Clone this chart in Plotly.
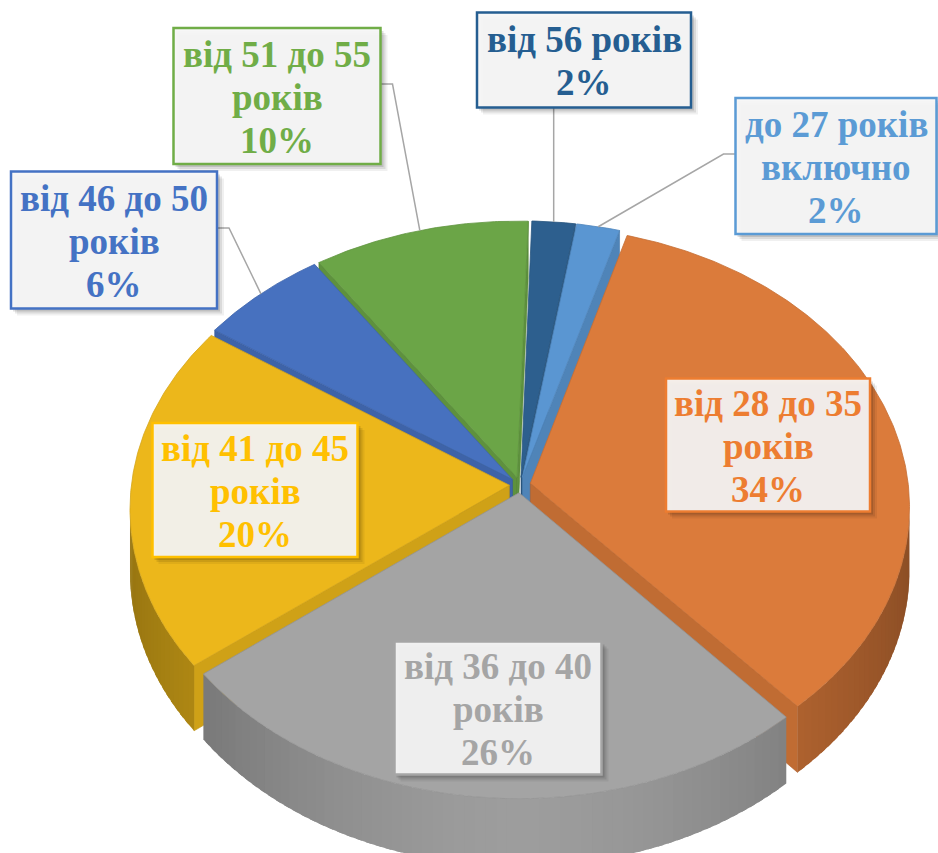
import numpy as np
import plotly.graph_objects as go

# ---------------- data ----------------
categories = ["до 27 років включно", "від 28 до 35 років", "від 36 до 40 років",
              "від 41 до 45 років", "від 46 до 50 років", "від 51 до 55 років", "від 56 років"]
label_text = ["до 27 років<br>включно", "від 28 до 35<br>років", "від 36 до 40<br>років",
              "від 41 до 45<br>років", "від 46 до 50<br>років", "від 51 до 55<br>років", "від 56 років"]
values = [2, 34, 26, 20, 6, 10, 2]

# ---------------- style ----------------
colors = ["#5B9BD5", "#ED7D31", "#A5A5A5", "#FFC000", "#4472C4", "#70AD47", "#255E91"]
top_colors = ["#5A96D2", "#DB7B3B", "#A4A4A4", "#ECB71B", "#4771BF", "#6BA547", "#2D5F8E"]

# 3-D pie geometry (pixel space of the 938x853 canvas, mild perspective)
CX, CY = 520, 485      # projected pie centre
SX, SY = 378, 279      # horizontal / vertical projected radius scale
K = 0.0835             # perspective strength
H = 62                 # pie thickness
EXPLODE = 0.028        # explosion as fraction of radius
START = 9              # first slice angle, degrees clockwise from 12 o'clock

# label boxes: centre, size, leader style
label_pos = [(836, 166), (768, 445), (498, 708), (255, 490), (114, 240), (277, 96), (584, 60)]
label_size = [(201, 136), (204, 133), (207, 133), (205, 134), (206, 137), (207, 136), (214, 95)]
leader = ["left", None, None, None, "right", "right", "bottom"]
LINE_STEP = 43
FONT = "Liberation Serif, Times New Roman, serif"


def hex2rgb(h):
    h = h.lstrip("#")
    return tuple(int(h[i:i + 2], 16) for i in (0, 2, 4))


def shade(h, f):
    r, g, b = hex2rgb(h)
    return "rgb(%d,%d,%d)" % (min(255, r * f), min(255, g * f), min(255, b * f))


def proj(X, Y, z=0.0):
    w = 1.0 + K * Y
    return CX + SX * X / w, CY - SY * Y / w + z * H / w


def edge(theta, off, r=1.0, z=0.0):
    t = np.radians(theta)
    return proj(off[0] + r * np.sin(t), off[1] + r * np.cos(t), z)


total = float(sum(values))
bounds = np.concatenate([[0], np.cumsum(values)]) / total * 360.0 + START
SIL = np.degrees(np.arccos(-K))  # silhouette angle of the cylinder wall

fig = go.Figure()


def poly(xs, ys, color, lw=0.0, lc=None):
    xs, ys = list(xs), list(ys)
    fig.add_trace(go.Scatter(x=xs + [xs[0]], y=ys + [ys[0]], mode="lines",
                             fill="toself", fillcolor=color,
                             line=dict(color=lc or color, width=lw),
                             hoverinfo="skip", showlegend=False))


slices = []
for i, v in enumerate(values):
    t1, t2 = bounds[i], bounds[i + 1]
    mid = (t1 + t2) / 2
    off = (EXPLODE * np.sin(np.radians(mid)), EXPLODE * np.cos(np.radians(mid)))
    slices.append((i, t1, t2, mid, off))

order = sorted(slices, key=lambda s: -np.cos(np.radians(s[3])))

for i, t1, t2, mid, off in order:
    base = top_colors[i]
    ax0, ay0 = proj(off[0], off[1])
    ax1, ay1 = proj(off[0], off[1], 1)
    # radial side walls
    for t, vis in ((t1, np.sin(np.radians(t1)) < 0), (t2, np.sin(np.radians(t2)) > 0)):
        if vis:
            ex0, ey0 = edge(t, off)
            ex1, ey1 = edge(t, off, z=1)
            poly([ax0, ex0, ex1, ax1], [ay0, ey0, ey1, ay1], shade(base, 0.88), lw=0.6,
                 lc=shade(base, 0.8))
    # curved outer wall (visible front part only)
    lo, hi = max(t1, SIL), min(t2, 360 - SIL)
    if hi > lo:
        n = max(2, int((hi - lo) / 1.5) + 1)
        edges = np.linspace(lo, hi, n + 1)
        step = edges[1] - edges[0]
        for a0, a1 in zip(edges[:-1], edges[1:]):
            a1e = min(hi, a1 + step * 0.6)
            ts = np.linspace(a0, a1e, 4)
            xs0, ys0 = edge(ts, off)
            xs1, ys1 = edge(ts, off, z=1)
            am = np.radians((a0 + a1) / 2)
            f = 0.96 - 0.32 * abs(np.sin(am)) ** 1.6
            poly(list(xs0) + list(xs1[::-1]), list(ys0) + list(ys1[::-1]), shade(base, f))
    # top face
    ts = np.linspace(t1, t2, max(8, int((t2 - t1) * 2)))
    xs, ys = edge(ts, off)
    poly([ax0] + list(xs), [ay0] + list(ys), base, lw=0.8, lc=shade(base, 0.9))

# leader lines
for i, t1, t2, mid, off in slices:
    style = leader[i]
    if not style:
        continue
    sx, sy = edge(mid, off)
    lx, ly = label_pos[i]
    w, h = label_size[i]
    if style == "left":
        xs = [lx - w / 2, lx - w / 2 - 12, sx]
        ys = [ly - 12, ly - 12, sy]
    elif style == "right":
        xs = [lx + w / 2, lx + w / 2 + 12, sx]
        ys = [ly - 12, ly - 12, sy]
    else:
        xs = [sx, sx]
        ys = [ly + h / 2, sy]
    fig.add_trace(go.Scatter(x=xs, y=ys, mode="lines", line=dict(color="#A6A6A6", width=1.5),
                             hoverinfo="skip", showlegend=False))

# label boxes
shapes = []
annotations = []
for i in range(len(values)):
    lx, ly = label_pos[i]
    w, h = label_size[i]
    for d, alpha in ((7, 0.06), (5, 0.09), (3, 0.12)):
        shapes.append(dict(type="rect", xref="x", yref="y",
                           x0=lx - w / 2 + d - 1, x1=lx + w / 2 + d, y0=ly - h / 2 + d, y1=ly + h / 2 + d,
                           fillcolor="rgba(0,0,0,%.2f)" % alpha, line=dict(width=0), layer="above"))
    shapes.append(dict(type="rect", xref="x", yref="y",
                       x0=lx - w / 2, x1=lx + w / 2, y0=ly - h / 2, y1=ly + h / 2,
                       fillcolor="rgba(246,246,246,0.93)", line=dict(color=colors[i], width=2.5),
                       layer="above"))
    lines = ("%s<br>%d%%" % (label_text[i], values[i])).split("<br>")
    n = len(lines)
    for j, txt in enumerate(lines):
        annotations.append(dict(x=lx, y=ly + (j - (n - 1) / 2) * LINE_STEP + 1, xref="x", yref="y",
                                showarrow=False, text=txt,
                                font=dict(family=FONT, size=37, color=colors[i], weight="bold"),
                                xanchor="center", yanchor="middle", align="center"))

fig.update_layout(
    width=938, height=853,
    margin=dict(l=0, r=0, t=0, b=0),
    paper_bgcolor="white", plot_bgcolor="white",
    xaxis=dict(range=[0, 938], visible=False, fixedrange=True),
    yaxis=dict(range=[853, 0], visible=False, fixedrange=True),
    shapes=shapes, annotations=annotations, showlegend=False,
)

fig.write_html("out.html", config={"displayModeBar": False},
               post_script="document.body.style.margin='0px';")
